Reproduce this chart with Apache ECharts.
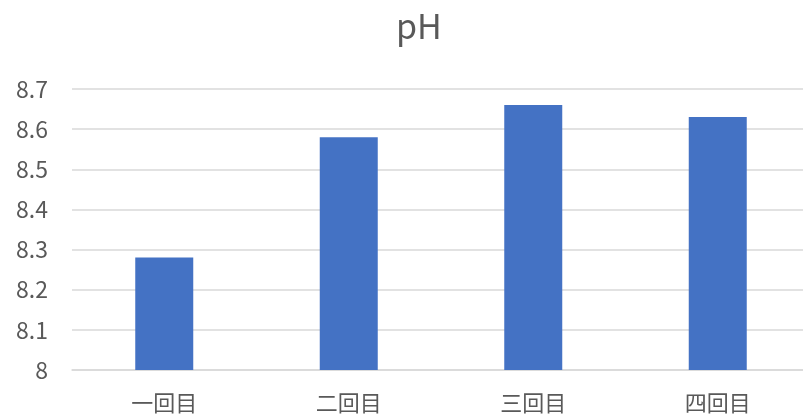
<!DOCTYPE html>
<html>
<head>
<meta charset="utf-8">
<script src="https://cdn.jsdelivr.net/npm/echarts@6/dist/echarts.min.js"></script>
<style>
html, body { margin: 0; padding: 0; background: #fff; }
#main { width: 803px; height: 417px; }
</style>
</head>
<body>
<div id="main"></div>
<script>
var categories = ['一回目', '二回目', '三回目', '四回目'];
var phValues = [8.28, 8.58, 8.66, 8.63];
var yMin = 8, yMax = 8.7, yStep = 0.1;

var chart = echarts.init(document.getElementById('main'));
var font = '"Noto Sans CJK JP", "Noto Sans", sans-serif';
var option = {
    animation: false,
    title: {
        text: 'pH',
        left: 391,
        top: 4,
        textStyle: { fontFamily: font, fontSize: 34, fontWeight: 'normal', color: '#595959' }
    },
    grid: {
        left: 72,
        right: -7,
        top: 89,
        bottom: 47,
        outerBoundsMode: 'none',
        containLabel: false
    },
    xAxis: {
        type: 'category',
        data: categories,
        axisLine: { lineStyle: { color: '#d9d9d9', width: 1.5 } },
        axisTick: { show: false },
        axisLabel: { fontFamily: font, fontSize: 22, color: '#595959', margin: 22 }
    },
    yAxis: {
        type: 'value',
        min: yMin,
        max: yMax,
        interval: yStep,
        axisLine: { show: false },
        axisTick: { show: false },
        splitLine: { lineStyle: { color: '#d9d9d9', width: 1.5 } },
        axisLabel: { fontFamily: font, fontSize: 23, color: '#595959', margin: 24 }
    },
    series: [{
        type: 'bar',
        data: phValues,
        barWidth: 58,
        itemStyle: { color: '#4472C4' }
    }]
};
chart.setOption(option);
</script>
</body>
</html>
